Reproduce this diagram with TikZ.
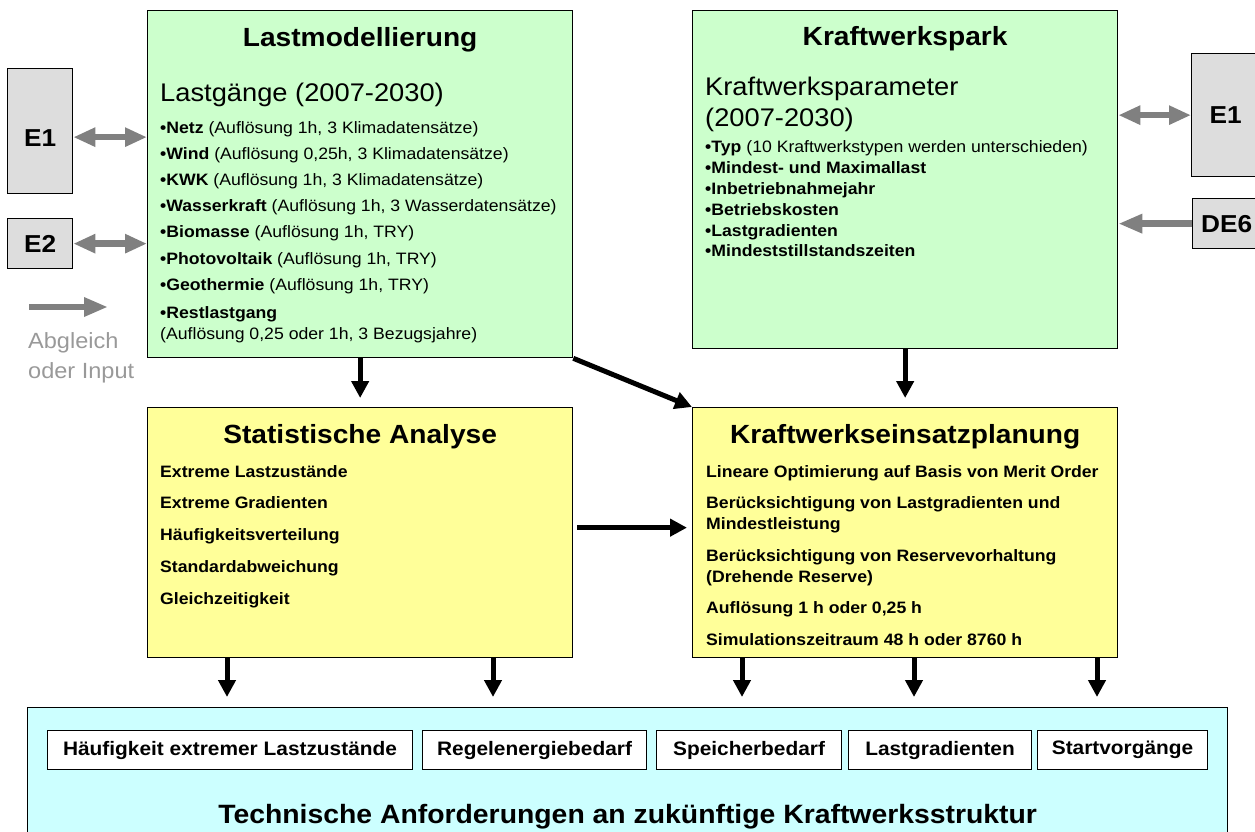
\documentclass[tikz,border=0pt]{standalone}
\usepackage{fontspec}
\setmainfont{Liberation Sans}[FakeStretch=1.07]
\usepackage{xcolor}
\usepackage{tikz}
\usetikzlibrary{calc, arrows.meta}

\definecolor{lastgreen}{HTML}{CCFFCC}
\definecolor{anayellow}{HTML}{FFFF99}
\definecolor{reqcyan}{HTML}{CCFFFF}
\definecolor{extgray}{HTML}{DDDDDD}
\definecolor{flowgray}{HTML}{808080}
\definecolor{notegray}{HTML}{999999}

\newcommand{\pxfont}[2]{\fontsize{#1}{#2}\selectfont}
\newcommand{\bpt}[1]{\textbf{\textbullet#1}}

\begin{document}
\begin{tikzpicture}[x=1pt,y=-1pt,
                    box/.style={draw,line width=1.3pt,anchor=north west,inner sep=0pt},
                    ext box/.style={box,fill=extgray,font=\bfseries\pxfont{24.5}{28}},
                    req box/.style={draw,line width=1.1pt,fill=white,anchor=north west,minimum height=39pt,inner sep=0pt,font=\bfseries\pxfont{19.5}{22}},
                    title/.style={anchor=base,font=\bfseries\pxfont{26.3}{30}},
                    list/.style={anchor=base west,inner sep=0pt},
                    flow/.style={line width=5pt,-{Triangle[width=17pt,length=17pt]}},
                    xchg/.style={flowgray,line width=6.5pt,{Triangle[width=18pt,length=22pt]}-{Triangle[width=18pt,length=22pt]}},
                    input/.style={flowgray,line width=6.5pt,-{Triangle[width=18pt,length=24pt]}}]

  \useasboundingbox (0,0) rectangle (1255,832);
  \clip (0,0) rectangle (1255,832);

  % main boxes
  \node[box,fill=lastgreen,minimum width=425pt,minimum height=347pt] (lastmod) at (147,10) {};
  \node[box,fill=lastgreen,minimum width=425pt,minimum height=338pt] (kwpark) at (692,10) {};
  \node[box,fill=anayellow,minimum width=425pt,minimum height=250pt] (stat) at (147,407) {};
  \node[box,fill=anayellow,minimum width=425pt,minimum height=250pt] (kwe) at (692,407) {};
  \node[box,fill=reqcyan,minimum width=1200pt,minimum height=140pt] (anf) at (27,707) {};

  % outside inputs
  \node[ext box,minimum width=65pt,minimum height=125pt,text height=30pt] (e1l) at (7,68) {E1};
  \node[ext box,minimum width=65pt,minimum height=50pt] (e2l) at (7,218) {E2};
  \node[ext box,minimum width=68pt,minimum height=123pt] (e1r) at (1191,53) {E1};
  \node[ext box,minimum width=68pt,minimum height=50pt] (de6) at (1192,198) {DE6};

  % Lastmodellierung
  \node[title] (lmtitle) at ([yshift=-37pt]lastmod.north) {Lastmodellierung};
  \node[list,font=\pxfont{25.5}{30}] (lmsub) at (160,102) {Lastgänge (2007-2030)};
  \node[list,font=\pxfont{16.5}{26.2}] (lmlist) at (160,133) {\begin{tabular}[t]{@{}l@{}}
    \bpt{Netz} (Auflösung 1h, 3 Klimadatensätze)\\
    \bpt{Wind} (Auflösung 0,25h, 3 Klimadatensätze)\\
    \bpt{KWK} (Auflösung 1h, 3 Klimadatensätze)\\
    \bpt{Wasserkraft} (Auflösung 1h, 3 Wasserdatensätze)\\
    \bpt{Biomasse} (Auflösung 1h, TRY)\\
    \bpt{Photovoltaik} (Auflösung 1h, TRY)\\
    \bpt{Geothermie} (Auflösung 1h, TRY)\\[1.8pt]
    \bpt{Restlastgang}\\[-5.2pt]
    (Auflösung 0,25 oder 1h, 3 Bezugsjahre)
  \end{tabular}};

  % Kraftwerkspark
  \node[title] (kptitle) at ([yshift=-36pt]kwpark.north) {Kraftwerkspark};
  \node[list,font=\pxfont{25.5}{31}] (kpsub) at (705,96) {\begin{tabular}[t]{@{}l@{}}
    Kraftwerksparameter\\
    (2007-2030)
  \end{tabular}};
  \node[list,font=\pxfont{16.5}{20.8}] (kplist) at (705,153) {\begin{tabular}[t]{@{}l@{}}
    \bpt{Typ} (10 Kraftwerkstypen werden unterschieden)\\
    \bpt{Mindest- und Maximallast}\\
    \bpt{Inbetriebnahmejahr}\\
    \bpt{Betriebskosten}\\
    \bpt{Lastgradienten}\\
    \bpt{Mindeststillstandszeiten}
  \end{tabular}};

  % Statistische Analyse
  \node[title] (sttitle) at ([yshift=-36pt]stat.north) {Statistische Analyse};
  \node[list,font=\bfseries\pxfont{16.5}{31.75}] (stlist) at (160,477) {\begin{tabular}[t]{@{}l@{}}
    Extreme Lastzustände\\
    Extreme Gradienten\\
    Häufigkeitsverteilung\\
    Standardabweichung\\
    Gleichzeitigkeit
  \end{tabular}};

  % Kraftwerkseinsatzplanung
  \node[title] (ketitle) at ([yshift=-36pt]kwe.north) {Kraftwerkseinsatzplanung};
  \node[list,font=\bfseries\pxfont{16.5}{31.5}] (kelist) at (706,477) {\begin{tabular}[t]{@{}l@{}}
    Lineare Optimierung auf Basis von Merit Order\\
    Berücksichtigung von Lastgradienten und\\[-10.5pt]
    Mindestleistung\\
    Berücksichtigung von Reservevorhaltung\\[-10.5pt]
    (Drehende Reserve)\\
    Auflösung 1 h oder 0,25 h\\
    Simulationszeitraum 48 h oder 8760 h
  \end{tabular}};

  % Anforderungen
  \node[req box,minimum width=365pt] (hfg) at (47,730) {Häufigkeit extremer Lastzustände};
  \node[req box,minimum width=224pt] (reg) at (422,730) {Regelenergiebedarf};
  \node[req box,minimum width=185pt] (spb) at (656,730) {Speicherbedarf};
  \node[req box,minimum width=183pt] (lgr) at (848,730) {Lastgradienten};
  \node[req box,minimum width=170pt] (stv) at (1037,730) {Startvorgänge};
  \node[title,font=\bfseries\pxfont{26.5}{30}] (anftitle) at ([yshift=-116pt]anf.north) {Technische Anforderungen an zukünftige Kraftwerksstruktur};

  % legend
  \coordinate (lgA) at (29,307);
  \coordinate (lgB) at (108,307);
  \draw[input] (lgA) -- (lgB);
  \node[list,text=notegray,font=\pxfont{22}{30}] (lgtext) at (28,348) {\begin{tabular}[t]{@{}l@{}}
    Abgleich\\
    oder Input
  \end{tabular}};

  % grey connectors
  \draw[xchg] ([yshift=-6pt]e1l.east) -- ([yshift=-6pt]e1l.east -| lastmod.west);
  \draw[xchg] (e2l.east) -- (e2l.east -| lastmod.west);
  \draw[xchg] (e1r.west -| kwpark.east) -- (e1r.west);
  \draw[input] (de6.west) -- (de6.west -| kwpark.east);

  % black connectors
  \draw[flow,shorten >=9pt] (lastmod.south) -- (stat.north);
  \draw[flow,shorten >=9pt] (kwpark.south) -- (kwe.north);
  \draw[flow] (lastmod.south east) -- (kwe.north west);
  \draw[flow,shorten <=4pt,shorten >=5pt] ([yshift=5pt]stat.east) -- ([yshift=5pt]kwe.west);
  \foreach \dx in {80,346}
    \draw[flow,shorten >=10pt] ($(stat.south west)+(\dx,0)$) coordinate (s) -- (s |- anf.north);
  \foreach \dx in {50,222,405}
    \draw[flow,shorten >=10pt] ($(kwe.south west)+(\dx,0)$) coordinate (k) -- (k |- anf.north);

\end{tikzpicture}
\end{document}
